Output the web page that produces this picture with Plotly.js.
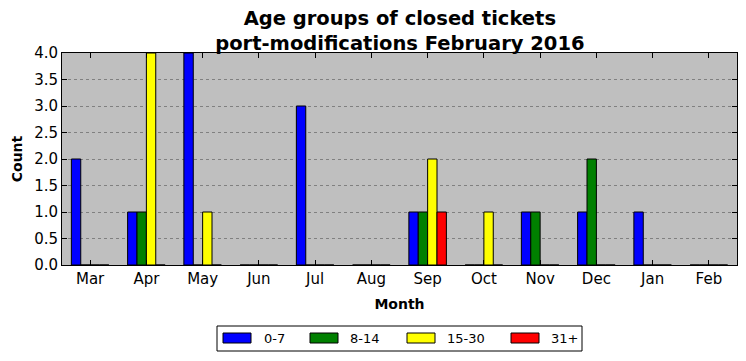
<!DOCTYPE html>
<html>
<head>
<meta charset="utf-8">
<script src="https://cdn.plot.ly/plotly-3.0.1.min.js"></script>
<style>html,body{margin:0;padding:0;background:#fff;}#chart{width:746px;height:361px;}</style>
</head>
<body>
<div id="chart"></div>
<script>
const months = ["Mar","Apr","May","Jun","Jul","Aug","Sep","Oct","Nov","Dec","Jan","Feb"];
const seriesNames = ["0-7","8-14","15-30","31+"];
const v0_7   = [2,1,4,0,3,0,1,0,1,1,1,0];
const v8_14  = [0,1,0,0,0,0,1,0,1,2,0,0];
const v15_30 = [0,4,1,0,0,0,2,1,0,0,0,0];
const v31    = [0,0,0,0,0,0,1,0,0,0,0,0];
const colors = ["#0000ff","#008000","#ffff00","#ff0000"];
const values = [v0_7, v8_14, v15_30, v31];

const traces = values.map((v,i)=>({
  type:'bar', x: months, y: v, name: seriesNames[i],
  marker:{color: colors[i], line:{color:'#000', width:1}},
  hoverinfo:'skip', showlegend:false
}));

// plot-area geometry (pixels) used to place the hand-drawn legend
const L = 62, T = 53, W = 675, H = 212;
const px = x => (x - L) / W;
const py = y => (T + H - y) / H;

const shapes = [{type:'rect', xref:'paper', yref:'paper', x0:px(217), x1:px(582), y0:py(351), y1:py(326),
  line:{color:'#000', width:1}, fillcolor:'#fff', layer:'above'}];
const annotations = [];
const symX = [223, 310, 407, 511];
const txtX = [262, 348, 445, 549];
seriesNames.forEach((n,i)=>{
  shapes.push({type:'rect', xref:'paper', yref:'paper', x0:px(symX[i]), x1:px(symX[i]+28), y0:py(343), y1:py(333),
    line:{color:'#000', width:1}, fillcolor:colors[i], layer:'above'});
  annotations.push({text:n, xref:'paper', yref:'paper', x:px(txtX[i]), y:py(338.5), xanchor:'left', yanchor:'middle',
    showarrow:false, font:{family:'DejaVu Sans', size:13, color:'#000'}});
});

const layout = {
  width:746, height:361,
  margin:{l:L, r:746-L-W, t:T, b:361-T-H, autoexpand:false},
  paper_bgcolor:'#fff', plot_bgcolor:'#bfbfbf',
  barmode:'group', bargap:0.333, bargroupgap:0,
  font:{family:'DejaVu Sans', color:'#000'},
  title:{text:'Age groups of closed tickets<br>port-modifications February 2016',
    font:{family:'DejaVu Sans', size:19.5, weight:'bold', color:'#000'},
    x:0.536, xanchor:'center', y:1 - 25/361, yanchor:'middle', yref:'container'},
  xaxis:{type:'category', range:[-0.5,11.5], showgrid:false, zeroline:false,
    ticks:'inside', ticklen:5, tickcolor:'#000', mirror:'allticks',
    showline:true, linecolor:'#000', linewidth:1,
    tickfont:{family:'DejaVu Sans', size:15, color:'#000'},
    title:{text:'Month', font:{family:'DejaVu Sans', size:14, weight:'bold', color:'#000'}, standoff:12}},
  yaxis:{range:[0,4], dtick:0.5, tickformat:'.1f', showgrid:true, gridcolor:'#808080', griddash:'dot', gridwidth:1,
    zeroline:false, ticks:'inside', ticklen:5, tickcolor:'#000', mirror:'allticks',
    showline:true, linecolor:'#000', linewidth:1,
    tickfont:{family:'DejaVu Sans', size:15, color:'#000'},
    title:{text:'Count', font:{family:'DejaVu Sans', size:14, weight:'bold', color:'#000'}, standoff:8}},
  showlegend:false,
  shapes: shapes,
  annotations: annotations
};
Plotly.newPlot('chart', traces, layout, {displayModeBar:false, staticPlot:true});
</script>
</body>
</html>
